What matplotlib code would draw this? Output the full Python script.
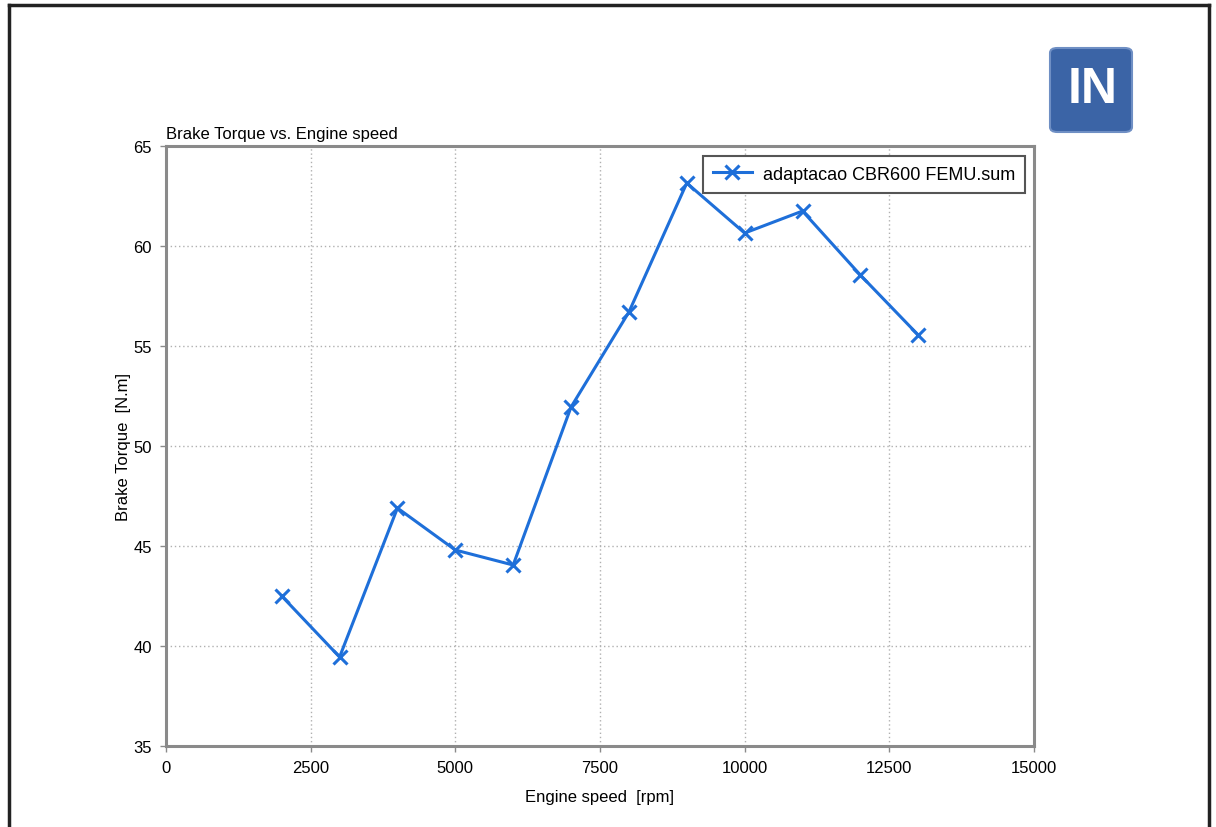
import matplotlib
matplotlib.use("Agg")
import matplotlib.pyplot as plt
from matplotlib.patches import FancyBboxPatch
from matplotlib.lines import Line2D

# values
speed = [2000, 3000, 4000, 5000, 6000, 7000, 8000, 9000, 10000, 11000, 12000, 13000]
torque = [42.5, 39.45, 46.9, 44.8, 44.05, 51.95, 56.7, 63.15, 60.65, 61.75, 58.55, 55.55]
xticks = [0, 2500, 5000, 7500, 10000, 12500, 15000]
yticks = [35, 40, 45, 50, 55, 60, 65]
series_name = "adaptacao CBR600 FEMU.sum"

plt.rcParams['font.family'] = ['Liberation Sans', 'DejaVu Sans']

fig = plt.figure(figsize=(12.16, 8.28), dpi=100)
ax = fig.add_axes([0.1365, 0.0978, 0.7138, 0.7246])

ax.plot(speed, torque, color='#1e6fd9', lw=2.2, marker='x', ms=10, mew=2.2,
        label=series_name)

ax.set_xlim(0, 15000)
ax.set_ylim(35, 65)
ax.set_xticks(xticks)
ax.set_yticks(yticks)
ax.grid(True, color='#b0b0b0', ls=(0, (1, 2)), lw=1.0)
for s in ax.spines.values():
    s.set_color('#8a8a8a')
    s.set_linewidth(2.2)
ax.tick_params(direction='out', length=4, width=1, color='#8a8a8a',
               labelsize=12, pad=6)

ax.set_title("Brake Torque vs. Engine speed", loc='left', fontsize=12, pad=6)
ax.set_xlabel("Engine speed  [rpm]", fontsize=12, labelpad=10)
ax.set_ylabel("Brake Torque  [N.m]", fontsize=12, labelpad=2)

leg = ax.legend(loc='upper right', bbox_to_anchor=(0.99, 0.984), fontsize=13,
                fancybox=False, framealpha=1, handlelength=2.2,
                borderpad=0.55, borderaxespad=0, handletextpad=0.6)
leg.get_frame().set_edgecolor('#555555')
leg.get_frame().set_linewidth(1.5)

# outer border (left, top, right)
for xs, ys in [([0.007, 0.007], [0.0, 0.993]),
               ([0.007, 0.994], [0.993, 0.993]),
               ([0.994, 0.994], [0.0, 0.993])]:
    fig.add_artist(Line2D(xs, ys, transform=fig.transFigure, color='#222222', lw=2.5))

# logo box top-right
logo = FancyBboxPatch((1050 / 1216, 1 - 133 / 828), 82 / 1216, 84 / 828,
                      boxstyle="round,pad=0,rounding_size=0.006",
                      transform=fig.transFigure, facecolor='#3b64a6',
                      edgecolor='#6f8fc4', lw=1.5)
fig.add_artist(logo)
fig.text(1093 / 1216, 1 - 90 / 828, "IN", color='white', fontsize=36,
         fontweight='bold', ha='center', va='center')

fig.savefig("out.png", dpi=100)
